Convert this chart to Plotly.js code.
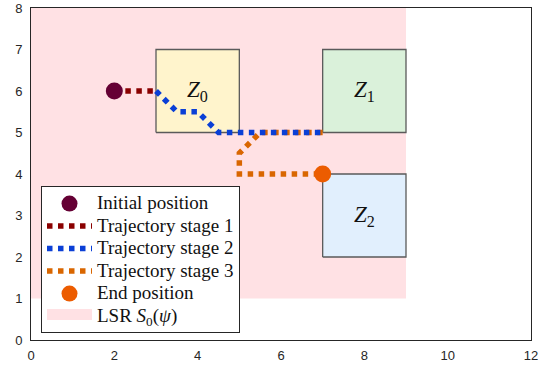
<!DOCTYPE html>
<html>
<head>
<meta charset="utf-8">
<script src="https://cdn.plot.ly/plotly-3.0.1.min.js"></script>
<style>html,body{margin:0;padding:0;background:#fff;}#chart{width:545px;height:366px;}</style>
</head>
<body>
<div id="chart"></div>
<script>
// Data
const initialPos = {x: [2], y: [6]};
const endPos = {x: [7], y: [4]};
const stage1X = [2, 3];
const stage1Y = [6, 6];
const stage2X = [3, 3.5, 4, 4.5, 7];
const stage2Y = [6, 5.5, 5.5, 5, 5];
const stage3X = [7, 5.5, 5, 5, 7];
const stage3Y = [5, 5, 4.5, 4, 4];
const lsrX = [0, 9, 9, 0, 0];
const lsrY = [1, 1, 8, 8, 1];
const zoneNames = ['0', '1', '2'];
const zoneX0 = [3, 7, 7];
const zoneX1 = [5, 9, 9];
const zoneY0 = [5, 5, 2];
const zoneY1 = [7, 7, 4];
const zoneColors = ['#fff4cc', '#daf1da', '#e1effd'];
const xTicks = [0, 2, 4, 6, 8, 10, 12];
const yTicks = [0, 1, 2, 3, 4, 5, 6, 7, 8];
const legendNames = ['Initial position', 'Trajectory stage 1', 'Trajectory stage 2',
  'Trajectory stage 3', 'End position', 'LSR <i>S</i><sub>0</sub>(<i>ψ</i>)'];

const big = s => '<span style="font-size:19px">' + s + '</span>';
const pink = '#ffe1e4';

const traces = [];
traces.push({
  x: lsrX, y: lsrY, mode: 'lines', fill: 'toself', fillcolor: pink,
  line: {width: 0, color: pink}, showlegend: false, hoverinfo: 'skip'
});
for (let i = 0; i < zoneNames.length; i++) {
  traces.push({
    x: [zoneX0[i], zoneX1[i], zoneX1[i], zoneX0[i], zoneX0[i]],
    y: [zoneY0[i], zoneY0[i], zoneY1[i], zoneY1[i], zoneY0[i]],
    mode: 'lines', fill: 'toself', fillcolor: zoneColors[i],
    line: {width: 1.3, color: '#5a5a5a'}, showlegend: false, hoverinfo: 'skip'
  });
}
traces.push({x: stage1X, y: stage1Y, mode: 'lines', name: big(legendNames[1]),
  line: {color: '#8a0000', width: 5.5, dash: '5.5px,5.5px'}, legendrank: 2});
traces.push({x: stage3X, y: stage3Y, mode: 'lines', name: big(legendNames[3]),
  line: {color: '#d96600', width: 5.5, dash: '5.5px,5.5px'}, legendrank: 4});
traces.push({x: stage2X, y: stage2Y, mode: 'lines', name: big(legendNames[2]),
  line: {color: '#0a3fd6', width: 5.5, dash: '5.5px,5.5px'}, legendrank: 3});
traces.push({x: initialPos.x, y: initialPos.y, mode: 'markers', name: big(legendNames[0]),
  marker: {color: '#650034', size: 17, symbol: 'circle'}, legendrank: 1});
traces.push({x: endPos.x, y: endPos.y, mode: 'markers', name: big(legendNames[4]),
  marker: {color: '#ec5c00', size: 17, symbol: 'circle'}, legendrank: 5});
// legend entry for the LSR region
traces.push({x: [null], y: [null], mode: 'lines', fill: 'toself', fillcolor: pink,
  line: {width: 16, color: pink}, name: big(legendNames[5]), legendrank: 6, hoverinfo: 'skip'});

const annotations = zoneNames.map((n, i) => ({
  x: (zoneX0[i] + zoneX1[i]) / 2, y: (zoneY0[i] + zoneY1[i]) / 2,
  xref: 'x', yref: 'y', text: '<i>Z</i><sub>' + n + '</sub>', showarrow: false,
  font: {family: '"Liberation Serif", "Times New Roman", serif', size: 23, color: '#111'}
}));

const layout = {
  width: 545, height: 366,
  margin: {l: 31, r: 14, t: 8, b: 26, pad: 0},
  paper_bgcolor: '#fff', plot_bgcolor: '#fff',
  showlegend: true,
  legend: {
    x: 0.02, y: 0.02, xanchor: 'left', yanchor: 'bottom',
    bgcolor: '#fff', bordercolor: '#262626', borderwidth: 1,
    font: {family: '"Liberation Serif", "Times New Roman", serif', size: 15, color: '#111'},
    itemwidth: 45, tracegroupgap: 0
  },
  xaxis: {
    range: [0, 12], tickvals: xTicks, ticktext: xTicks.map(String),
    showgrid: false, zeroline: false, showline: true, mirror: true,
    linecolor: '#262626', linewidth: 1, ticks: '', ticklabelstandoff: 3,
    tickfont: {family: '"Liberation Sans", Arial, sans-serif', size: 13, color: '#262626'},
    fixedrange: true
  },
  yaxis: {
    range: [0, 8], tickvals: yTicks, ticktext: yTicks.map(String),
    showgrid: false, zeroline: false, showline: true, mirror: true,
    linecolor: '#262626', linewidth: 1, ticks: '', ticklabelstandoff: 5,
    tickfont: {family: '"Liberation Sans", Arial, sans-serif', size: 13, color: '#262626'},
    fixedrange: true
  },
  annotations: annotations
};

Plotly.newPlot('chart', traces, layout, {displayModeBar: false, staticPlot: true});
</script>
</body>
</html>
